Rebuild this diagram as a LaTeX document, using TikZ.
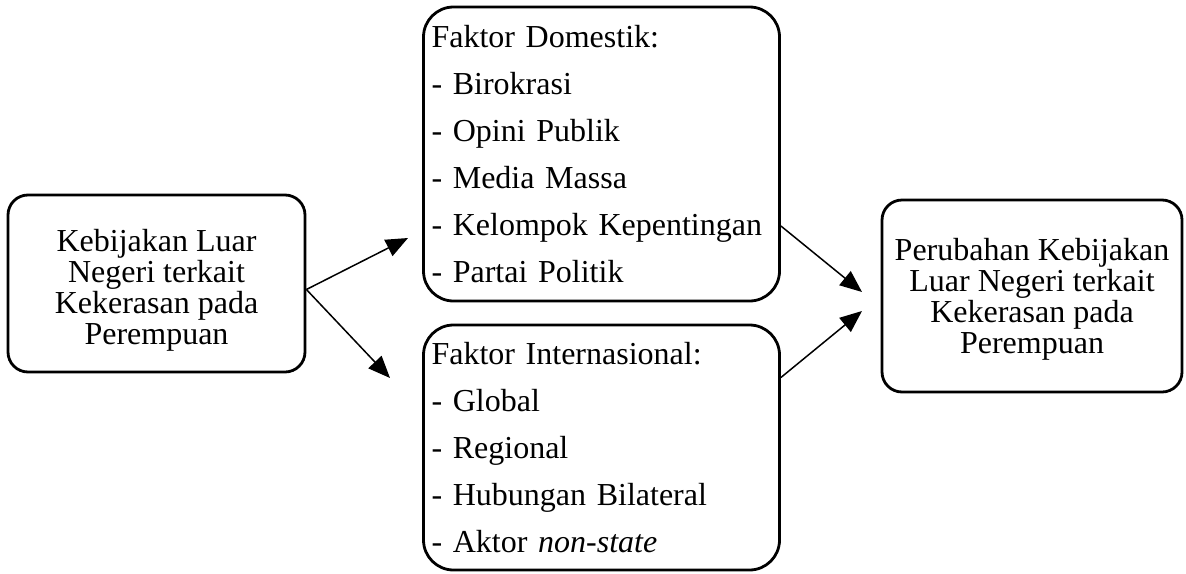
\documentclass[tikz,border=0pt]{standalone}
\usepackage{fontspec}
\setmainfont{Liberation Serif}
\usetikzlibrary{arrows.meta,positioning}

\begin{document}
\begin{tikzpicture}
              [x=0.5pt,y=-0.5pt,
                every node/.style={font=\fontsize{16}{16}\selectfont},
                box/.style={draw,line width=1.4pt,rounded corners=10pt,align=center,inner sep=0pt,
                  font=\fontsize{16}{15.5}\selectfont},
                faktor/.style={draw,line width=1.4pt,rounded corners=15pt,align=left,text width=170pt,
                  inner xsep=4pt,inner ysep=0pt,font=\fontsize{16}{23.5}\selectfont},
                link/.style={line width=0.75pt,-{Triangle[length=11pt,width=9pt]}}]
              \useasboundingbox (0,0) rectangle (1186,573);
              \node[box,minimum width=148.5pt,minimum height=88.5pt,text height=64.4pt] (kebijakan) at (156.5,283.5)
                {Kebijakan Luar\\Negeri terkait\\Kekerasan pada\\Perempuan};
              \node[faktor,minimum height=147pt] (domestik) at (601.5,154)
                {Faktor Domestik:\\- Birokrasi\\- Opini Publik\\- Media Massa\\- Kelompok Kepentingan\\- Partai Politik};
              \node[faktor,minimum height=122.5pt] (internasional) at (601.5,447.5)
                {Faktor Internasional:\\- Global\\- Regional\\- Hubungan Bilateral\\- Aktor \textit{non-state}};
              \node[box,minimum width=150pt,minimum height=96pt,text height=60.9pt] (perubahan) at (1032,296)
                {Perubahan Kebijakan\\Luar Negeri terkait\\Kekerasan pada\\Perempuan};
              % ujung panah
              \coordinate (kiri) at ([yshift=-3pt]kebijakan.east);
              \coordinate (atas) at ([yshift=-36pt]domestik.east);
              \coordinate (bawah) at ([yshift=35pt]internasional.east);
              \coordinate (tdom) at (408,238);
              \coordinate (tint) at (390,378);
              \coordinate (tatas) at (862,292);
              \coordinate (tbawah) at (862,311);
              \foreach \from/\to in {kiri/tdom,kiri/tint,atas/tatas,bawah/tbawah}
              \draw[link] (\from) -- (\to);
            \end{tikzpicture}
\end{document}
